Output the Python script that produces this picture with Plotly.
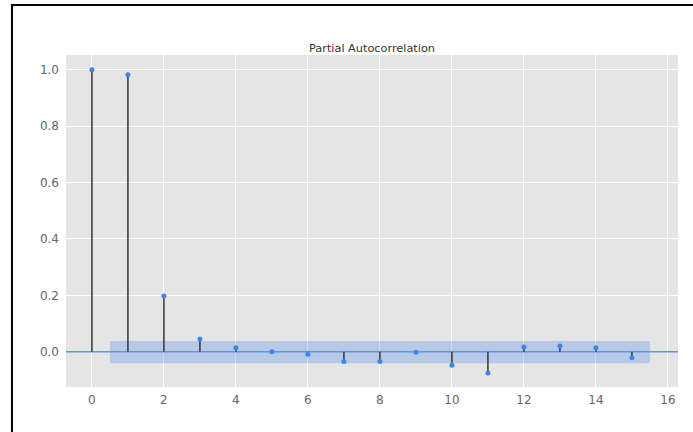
import plotly.graph_objects as go

lags = list(range(16))
pacf = [1.0, 0.982, 0.198, 0.045, 0.014, 0.0, -0.009, -0.035, -0.035, -0.002,
        -0.048, -0.075, 0.017, 0.020, 0.014, -0.021]
conf_upper = 0.038
conf_lower = -0.041
band_lags = [0.5, 15.5]
x_range = [-0.72, 16.28]
y_range = [-0.125, 1.052]
x_ticks = [0, 2, 4, 6, 8, 10, 12, 14, 16]
y_ticks = [0.0, 0.2, 0.4, 0.6, 0.8, 1.0]

fig = go.Figure()

# confidence band
fig.add_trace(go.Scatter(
    x=[band_lags[0], band_lags[1], band_lags[1], band_lags[0], band_lags[0]],
    y=[conf_lower, conf_lower, conf_upper, conf_upper, conf_lower],
    fill="toself", fillcolor="rgba(100,150,230,0.35)", line=dict(width=0),
    mode="lines", hoverinfo="skip", showlegend=False))

# zero line
fig.add_trace(go.Scatter(x=x_range, y=[0, 0], mode="lines",
                         line=dict(color="#5b96f2", width=1.5),
                         hoverinfo="skip", showlegend=False))

# stems
sx, sy = [], []
for l, v in zip(lags, pacf):
    sx += [l, l, None]
    sy += [0, v, None]
fig.add_trace(go.Scatter(x=sx, y=sy, mode="lines",
                         line=dict(color="#333333", width=1.5),
                         hoverinfo="skip", showlegend=False))

# markers
fig.add_trace(go.Scatter(x=lags, y=pacf, mode="markers",
                         marker=dict(color="#3d84f3", size=5),
                         showlegend=False))

# figure frame
fig.add_shape(type="rect", xref="paper", yref="paper",
              x0=-0.0883, x1=1.2, y0=-0.3, y1=1.1506,
              line=dict(color="black", width=2), fillcolor="rgba(0,0,0,0)",
              layer="above")

fig.update_layout(
    width=693, height=432,
    margin=dict(l=66, r=15, t=55, b=45),
    paper_bgcolor="white", plot_bgcolor="#e5e5e5",
    font=dict(family="DejaVu Sans", size=12, color="#666666"),
    title=dict(text="Partial Autocorrelation", x=0.5, xref="paper",
               y=1, yref="paper", yanchor="bottom", pad=dict(b=3),
               font=dict(size=11.3, color="#333333")),
    showlegend=False,
)
fig.update_xaxes(range=x_range, tickvals=x_ticks, ticktext=[str(t) for t in x_ticks],
                 showgrid=True, gridcolor="white", gridwidth=1, zeroline=False,
                 ticks="", showline=False, ticklabelstandoff=4)
fig.update_yaxes(range=y_range, tickvals=y_ticks, ticktext=[f"{t:.1f}" for t in y_ticks],
                 showgrid=True, gridcolor="white", gridwidth=1, zeroline=False,
                 ticks="", showline=False, ticklabelstandoff=6)

fig.write_html("out.html", config={"displayModeBar": False},
               post_script="document.body.style.margin='0';document.body.style.overflow='hidden';")
